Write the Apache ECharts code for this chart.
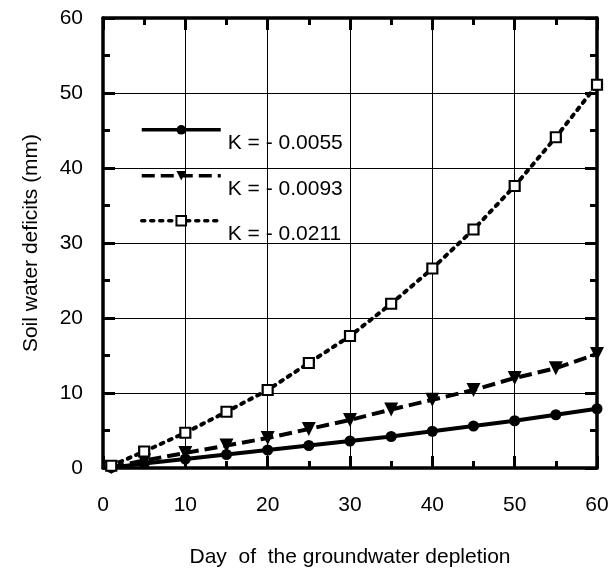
<!DOCTYPE html>
<html>
<head>
<meta charset="utf-8">
<script src="https://cdn.jsdelivr.net/npm/echarts/dist/echarts.min.js"></script>
<style>
    html, body { margin: 0; padding: 0; background: #fff; }
    #main { width: 610px; height: 569px; }
</style>
</head>
<body>
<div id="main"></div>
<script>
// 天数
var days = [1, 5, 10, 15, 20, 25, 30, 35, 40, 45, 50, 55, 60];
// 三个K值对应的土壤水分亏缺 (mm)
var k0055 = [0.05, 0.6, 1.2, 1.8, 2.4, 3.0, 3.6, 4.2, 4.9, 5.6, 6.3, 7.1, 7.9];
var k0093 = [0.1, 1.0, 2.0, 3.0, 4.0, 5.2, 6.4, 7.8, 9.1, 10.4, 12.0, 13.3, 15.2];
var k0211 = [0.3, 2.2, 4.7, 7.5, 10.4, 14.0, 17.6, 21.9, 26.6, 31.8, 37.6, 44.1, 51.1];
var names = ["K = - 0.0055", "K = - 0.0093", "K = - 0.0211"];

function pairs(ys) {
    return days.map(function (d, i) { return [d, ys[i]]; });
}

var font = "Liberation Sans";
var tick = {
    show: true, inside: true, length: 12,
    lineStyle: { color: "#000", width: 3 }
};
var minor = {
    show: true, splitNumber: 2, length: 7,
    lineStyle: { color: "#000", width: 3 }
};
var line = { show: true, onZero: false, lineStyle: { color: "#000", width: 3.5 } };

function axis(pos, main, name) {
    return {
        type: "value", position: pos, min: 0, max: 60, interval: 10,
        axisLine: line, axisTick: tick, minorTick: minor,
        splitLine: { show: main, lineStyle: { color: "#000", width: 1 } },
        axisLabel: { show: main, color: "#000", fontFamily: font, fontSize: 21, margin: 27 },
        name: main ? name : "",
        nameLocation: "middle",
        nameTextStyle: { color: "#000", fontFamily: font, fontSize: 21 }
    };
}

// 图例: 每条一个, 文字比线条低一些
function legend(i, top) {
    return {
        left: 135, top: top,
        itemWidth: 79, itemHeight: 12,
        lineStyle: { width: 3.5 },
        formatter: "{t|{name}}",
        textStyle: {
            color: "#000",
            rich: { t: { fontFamily: font, fontSize: 21, color: "#000", padding: [26, 0, 0, 2] } }
        },
        data: [names[i]]
    };
}

var xb = axis("bottom", true, "Day  of  the groundwater depletion");
xb.nameGap = 79;
var yl = axis("left", true, "Soil water deficits (mm)");
yl.nameGap = 61;
yl.axisLabel.margin = 20;

var myChart = echarts.init(document.getElementById("main"));
var option = {
    backgroundColor: "#fff",
    animation: false,
    grid: { left: 103, right: 13, top: 18, bottom: 101, outerBoundsMode: "none", containLabel: false },
    xAxis: [xb, axis("top", false)],
    yAxis: [yl, axis("right", false)],
    legend: [legend(0, 120), legend(1, 166), legend(2, 210)],
    series: [{
        name: names[0],
        type: "line",
        data: pairs(k0055),
        symbol: "circle", symbolSize: 11,
        itemStyle: { color: "#000" },
        lineStyle: { color: "#000", width: 4 }
    }, {
        name: names[1],
        type: "line",
        data: pairs(k0093),
        symbol: "triangle", symbolSize: 14, symbolRotate: 180,
        itemStyle: { color: "#000" },
        lineStyle: { color: "#000", width: 4, type: [13, 6] }
    }, {
        name: names[2],
        type: "line",
        data: pairs(k0211),
        symbol: "rect", symbolSize: 10,
        itemStyle: { color: "#fff", borderColor: "#000", borderWidth: 2.2 },
        lineStyle: { color: "#000", width: 4, type: [3, 6], cap: "round" }
    }]
};
myChart.setOption(option);
</script>
</body>
</html>
